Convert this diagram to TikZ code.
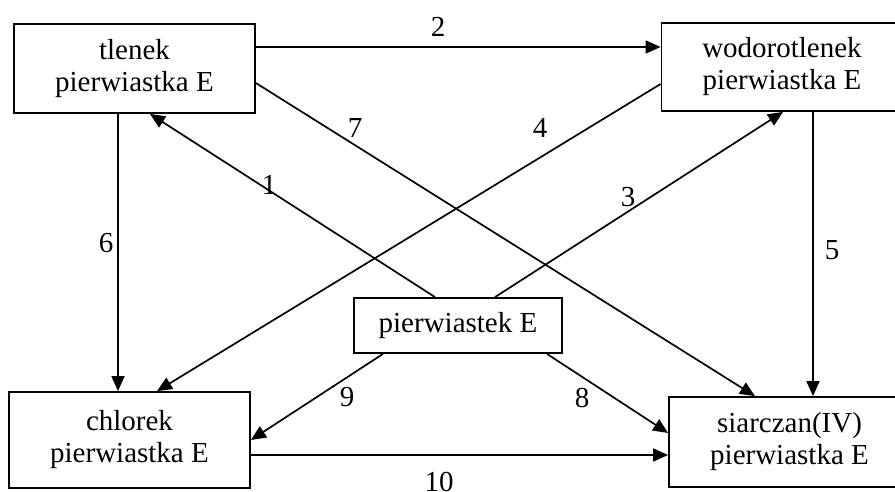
\documentclass[tikz,border=0pt]{standalone}
\usepackage{fontspec}
\setmainfont{Liberation Serif}
\usetikzlibrary{arrows.meta}

\begin{document}
\begin{tikzpicture}[x=1pt,y=-1pt,
  every node/.style={font=\fontsize{29}{32}\selectfont},
  compound/.style={draw, line width=1.8pt, align=center, inner sep=0pt,
    minimum width=241pt},
  numlabel/.style={inner sep=0pt},
  conv/.style={line width=1.7pt, -{Triangle[length=15pt,width=13pt]}}]

  \useasboundingbox (0,0) rectangle (895,491);
  \clip (0,0) rectangle (895,491);

  % compounds
  \node[compound, minimum height=89pt] (tl) at (134.5,68.5) {tlenek\\pierwiastka E};
  \node[compound, minimum height=88pt] (wd) at (782,67) {wodorotlenek\\pierwiastka E};
  \node[compound, minimum height=96pt] (ch) at (129.5,440) {chlorek\\pierwiastka E};
  \node[compound, minimum height=90pt] (sc) at (789.5,442) {siarczan(IV)\\pierwiastka E};
  \node[compound, minimum width=208pt, minimum height=55pt] (pw) at (458,325.5) {pierwiastek E};

  % conversions
  \draw[conv] ([xshift=-23pt]pw.north) -- ([xshift=15.5pt]tl.south);
  \draw[conv] ([yshift=21.5pt]tl.east) -- ([yshift=20pt]wd.west);
  \draw[conv] ([xshift=37pt]pw.north) -- ([xshift=1pt]wd.south);
  \draw[conv] ([yshift=-17pt]wd.west) -- ([xshift=27.5pt]ch.north);
  \draw[conv] ([xshift=31pt]wd.south) -- ([xshift=23.5pt]sc.north);
  \draw[conv] ([xshift=-16.5pt]tl.south) -- ([xshift=-11.5pt]ch.north);
  \draw[conv] ([yshift=-14.5pt]tl.east) -- ([xshift=-34.5pt]sc.north);
  \draw[conv] ([xshift=89pt]pw.south) -- ([yshift=9pt]sc.west);
  \draw[conv] ([xshift=-75pt]pw.south) -- (ch.east);
  \draw[conv] ([yshift=-15pt]ch.east) -- ([yshift=-13pt]sc.west);

  % conversion numbers
  \node[numlabel] (n1) at (269,185) {1};
  \node[numlabel] (n2) at (438,27) {2};
  \node[numlabel] (n3) at (628,197) {3};
  \node[numlabel] (n4) at (540,128) {4};
  \node[numlabel] (n5) at (832,250) {5};
  \node[numlabel] (n6) at (106,243) {6};
  \node[numlabel] (n7) at (355,128) {7};
  \node[numlabel] (n8) at (582,398) {8};
  \node[numlabel] (n9) at (347,397) {9};
  \node[numlabel] (n10) at (439,482) {10};
\end{tikzpicture}
\end{document}
